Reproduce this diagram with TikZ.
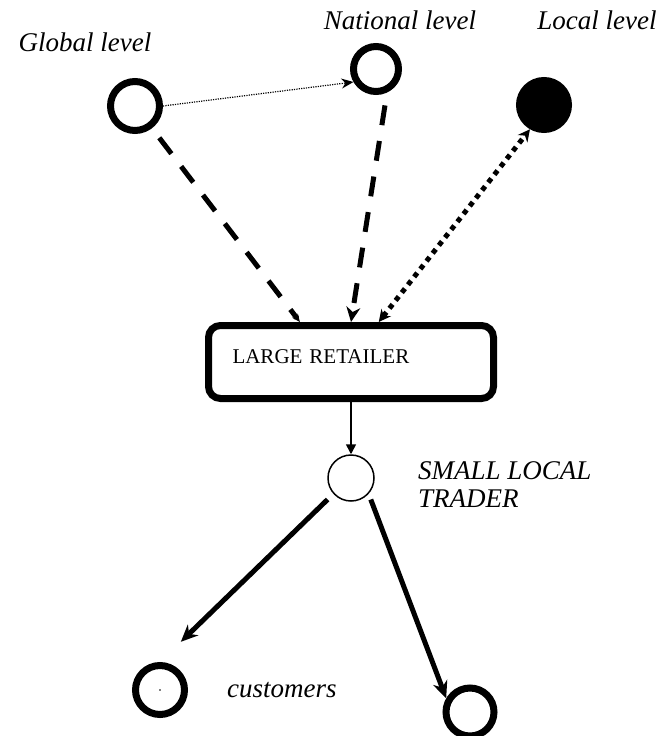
\documentclass[tikz,border=0pt]{standalone}
\usepackage{fontspec}
\setmainfont{Liberation Serif}[ItalicFont={Liberation Serif Italic},
                               BoldFont={Liberation Serif Bold}]
\usetikzlibrary{arrows.meta,calc,positioning}
\tikzstyle{actor} =[circle, draw, line width=7pt, inner sep=0pt,
                    minimum size=49pt]
\tikzstyle{trader}=[circle, draw, line width=1.5pt, inner sep=0pt,
                    minimum size=46pt]
\tikzstyle{retail}=[draw, rounded corners=12pt, line width=7pt,
                    minimum width=285pt, minimum height=73pt,
                    text width=237pt, inner xsep=24pt, align=left,
                    text depth=11pt, font=\fontsize{21}{25}\selectfont]
\tikzstyle{lbl}   =[inner sep=0pt, font=\fontsize{27}{28}\selectfont\itshape]
\tikzstyle{dashflow}=[line width=5pt, dash pattern=on 20pt off 16pt]
\tikzstyle{dotflow} =[line width=5pt, dash pattern=on 5pt off 5pt]
\tikzstyle{sale}  =[line width=5pt, -{Stealth[length=17pt,width=15pt]}]
\begin{document}
\begin{tikzpicture}[x=1pt, y=-1pt]
                \useasboundingbox (0,0) rectangle (660,736);

                \node[actor] (glob) at (135,106) {};
                \node[actor, minimum size=45pt] (nat) at (376,69) {};
                \node[actor, fill=black] (loc) at (544,105) {};
                \node[retail] (ret) at (351,362) {LARGE RETAILER};
                \node[trader] (slt) at (351,478) {};
                \node[actor] (cust1) at (160,690) {};
                \node[actor, minimum size=48pt] (cust2) at (470,712) {};
                \fill (cust1.center) circle (0.8pt);

                \node[lbl] (globlbl) at (85,42) {Global level};
                \node[lbl] (natlbl) at (400,20) {National level};
                \node[lbl] (loclbl) at (597,20) {Local level};
                \node[lbl, align=left, anchor=north west] (sltlbl) at (418,461)
                    {SMALL LOCAL\\TRADER};
                \node[lbl, right=39pt of cust1] (custlbl) {customers};

                \draw[line width=1.2pt, dash pattern=on 1.2pt off 1.2pt,
                      -{Stealth[length=12pt,width=10pt]}] (glob.east) -- (nat.210);
                \draw[dashflow, -{Stealth[length=8pt,width=7pt]}, shorten <=12pt]
                    (glob) -- ($(ret.north west)!0.325!(ret.north east)$);
                \draw[dashflow, -{Stealth[length=15pt,width=14pt]}, shorten <=13pt]
                    (nat.-65) -- (ret.north);
                \draw[dotflow, {Stealth[length=12pt,width=12pt]}-{Stealth[length=12pt,width=12pt]}]
                    ($(ret.north west)!0.595!(ret.north east)$) -- (loc.-120);
                \draw[line width=1.5pt, -{Triangle[length=10pt,width=10pt]}] (ret) -- (slt);
                \draw[sale, shorten <=8pt, shorten >=29pt] (slt.-138) -- (cust1.north);
                \draw[sale, shorten <=6pt] (slt.-42) -- (cust2.150);

        \end{tikzpicture}
\end{document}
